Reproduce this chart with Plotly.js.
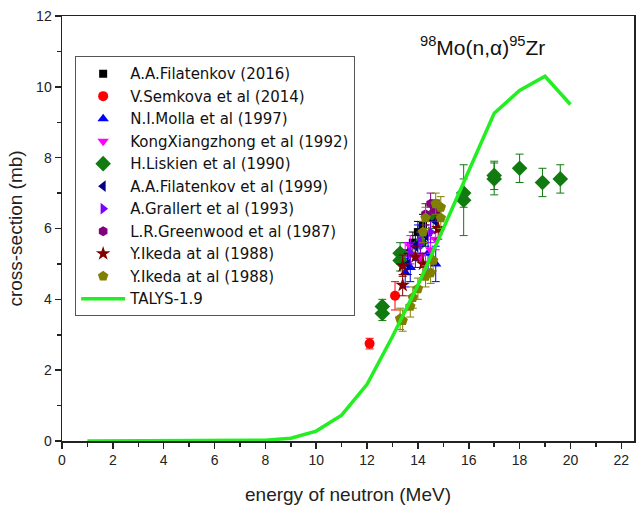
<!DOCTYPE html>
<html><head><meta charset="utf-8">
<script src="https://cdn.plot.ly/plotly-3.0.1.min.js"></script>
<style>body{margin:0;background:#fff}#c{width:640px;height:510px}</style>
</head><body><div id="c"></div>
<script>
const talysX = [1,2,3,4,5,6,7,8,9,10,11,12,13,14,15,16,17,18,19,20];
const talysY = [0,0,0,0,0,0,0.005,0.02,0.08,0.28,0.73,1.6,2.95,4.4,6.0,7.65,9.25,9.9,10.3,9.5];

const filat16X = [13.6,13.8,14.0,14.2,14.5,14.7];
const filat16Y = [5.3,5.6,5.9,6.1,6.3,6.5];
const filat16E = [0.3,0.3,0.3,0.3,0.3,0.3];

const semkovaX = [12.1,13.1];
const semkovaY = [2.75,4.1];
const semkovaE = [0.15,0.4];

const mollaX = [13.5,13.7,14.0,14.4,14.7];
const mollaY = [4.75,4.9,5.6,5.3,5.0];
const mollaE = [0.4,0.4,0.5,0.5,0.5];

const kongX = [13.5,13.7,14.1,14.3,14.5,14.7];
const kongY = [5.3,5.5,5.2,5.0,5.4,5.7];
const kongE = [0.3,0.3,0.3,0.3,0.3,0.3];

const liskienX = [12.6,12.6,13.3,13.3,14.1,14.6,15.8,15.8,17.0,17.0,18.0,18.9,19.6];
const liskienY = [3.6,3.8,5.1,5.3,5.6,6.4,6.8,7.0,7.4,7.5,7.7,7.3,7.4];
const liskienE = [0.2,0.2,0.3,0.3,0.3,0.4,1.0,0.4,0.45,0.4,0.4,0.4,0.4];

const filat99X = [13.6,13.9,14.3,14.7];
const filat99Y = [5.0,5.5,5.8,6.2];
const filat99E = [0.3,0.3,0.3,0.3];

const grallertX = [13.7,14.1,14.5];
const grallertY = [5.3,5.6,5.9];
const grallertE = [0.3,0.3,0.3];

const greenwoodX = [14.3,14.5,14.7];
const greenwoodY = [6.4,6.7,6.5];
const greenwoodE = [0.3,0.3,0.3];

const ikedaStarX = [13.4,13.4,13.9,14.2,14.8];
const ikedaStarY = [4.4,4.95,5.2,5.0,6.0];
const ikedaStarE = [0.3,0.3,0.3,0.3,0.3];

const ikedaPentX = [13.3,13.4,13.7,13.8,14.0,14.3,14.5,14.6,14.9,14.2,14.3,14.7,14.9];
const ikedaPentY = [3.45,3.4,3.8,4.05,4.3,4.65,4.75,5.1,6.3,5.9,6.3,6.7,6.6];
const ikedaPentE = [0.3,0.3,0.3,0.3,0.3,0.3,0.3,0.3,0.3,0.3,0.3,0.3,0.3];

function pts(name, x, y, e, symbol, color, size) {
  return {type:'scatter', mode:'markers', name:name, x:x, y:y,
    marker:{symbol:symbol, color:color, size:size, line:{width:0}},
    error_y:{type:'data', array:e, visible:true, color:color, thickness:1, width:4}};
}

const data = [
  pts('A.A.Filatenkov (2016)', filat16X, filat16Y, filat16E, 'square', '#000000', 8),
  pts('V.Semkova et al (2014)', semkovaX, semkovaY, semkovaE, 'circle', '#ff0000', 10),
  pts('N.I.Molla et al (1997)', mollaX, mollaY, mollaE, 'triangle-up', '#0000ff', 10),
  pts('KongXiangzhong et al (1992)', kongX, kongY, kongE, 'triangle-down', '#ff00ff', 10),
  pts('H.Liskien et al (1990)', liskienX, liskienY, liskienE, 'diamond', '#117a11', 12),
  pts('A.A.Filatenkov et al (1999)', filat99X, filat99Y, filat99E, 'triangle-left', '#000080', 10),
  pts('A.Grallert et al (1993)', grallertX, grallertY, grallertE, 'triangle-right', '#8000ff', 10),
  pts('L.R.Greenwood et al (1987)', greenwoodX, greenwoodY, greenwoodE, 'hexagon', '#800080', 10),
  pts('Y.Ikeda at al (1988)', ikedaStarX, ikedaStarY, ikedaStarE, 'star', '#800000', 11),
  pts('Y.Ikeda at al (1988)', ikedaPentX, ikedaPentY, ikedaPentE, 'pentagon', '#808000', 11),
  {type:'scatter', mode:'lines', name:'TALYS-1.9', x:talysX, y:talysY,
   line:{color:'#22ee22', width:3.5}}
];

const fontFam = 'Arial, "Liberation Sans", sans-serif';
const legendFam = '"DejaVu Sans", Arial, sans-serif';
const layout = {
  width:640, height:510,
  margin:{l:62, r:6, t:16, b:69},
  paper_bgcolor:'#fff', plot_bgcolor:'#fff',
  font:{family:fontFam, color:'#222'},
  showlegend:true,
  legend:{x:0.023, y:0.905, xanchor:'left', yanchor:'top',
    bgcolor:'#fff', bordercolor:'#555', borderwidth:1, itemwidth:44,
    font:{size:15, family:legendFam, color:'#111'}, tracegroupgap:0},
  xaxis:{range:[0,22.5], dtick:2, tick0:0, ticks:'outside', ticklen:6, tickwidth:1.5, tickcolor:'#222',
    minor:{dtick:1, ticks:'outside', ticklen:4, tickcolor:'#222'},
    showline:true, linecolor:'#222', linewidth:1.5, mirror:true, showgrid:false, zeroline:false,
    tickfont:{size:14, family:fontFam},
    title:{text:'energy of neutron (MeV)', font:{size:19, family:fontFam}, standoff:20}},
  yaxis:{range:[0,12], dtick:2, tick0:0, ticks:'outside', ticklen:6, tickwidth:1.5, tickcolor:'#222',
    minor:{dtick:1, ticks:'outside', ticklen:4, tickcolor:'#222'},
    showline:true, linecolor:'#222', linewidth:1.5, mirror:true, showgrid:false, zeroline:false,
    tickfont:{size:14, family:fontFam},
    title:{text:'cross-section (mb)', font:{size:19, family:fontFam}, standoff:8}},
  annotations:[{xref:'paper', yref:'paper', x:0.735, y:0.93, xanchor:'center', yanchor:'middle',
    showarrow:false, text:'<sup>98</sup>Mo(n,α)<sup>95</sup>Zr', font:{size:21, family:fontFam, color:'#111'}}]
};

Plotly.newPlot('c', data, layout, {displayModeBar:false, staticPlot:true});
</script>
</body></html>
